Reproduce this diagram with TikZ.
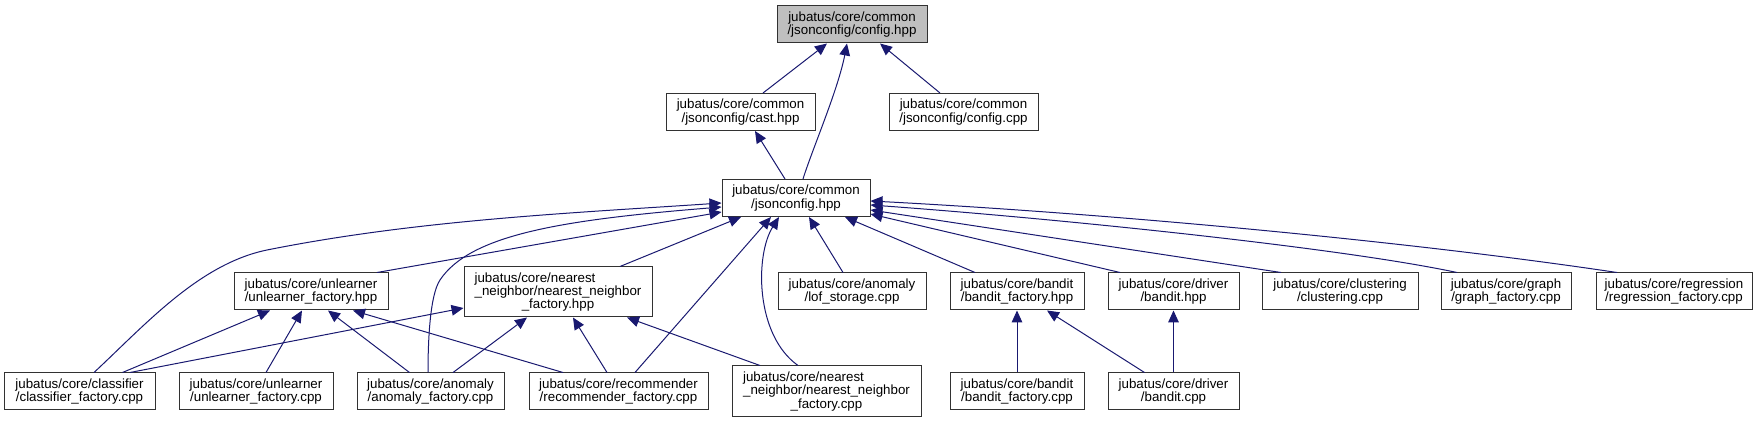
\documentclass[tikz,border=0pt]{standalone}
\usepackage{fontspec}
\setmainfont{Liberation Sans}
\usetikzlibrary{arrows.meta,calc}
\definecolor{edgeblue}{RGB}{25,25,112}
\definecolor{boxline}{RGB}{50,50,50}
\definecolor{rootfill}{RGB}{191,191,191}

\begin{document}
\begin{tikzpicture}[
  x=0.75pt, y=-0.75pt,
  font=\fontsize{10}{10}\selectfont,
  file/.style={draw=boxline, line width=0.75pt, fill=white, inner sep=0pt, minimum height=27.75pt, align=center},
  root/.style={file, fill=rootfill},
  inc/.style={edgeblue, line width=0.75pt, -{Triangle[length=9pt, width=8pt]}}]
  \useasboundingbox (0,0) rectangle (1761,423);
  % top rows
  \node[root, minimum width=112.5pt] (cfg) at (852,24.5) {jubatus/core/common\\/jsonconfig/config.hpp};
  \node[file, minimum width=111.75pt] (cast) at (740.5,112) {jubatus/core/common\\/jsonconfig/cast.hpp};
  \node[file, minimum width=111.75pt] (cfgcpp) at (963.5,112) {jubatus/core/common\\/jsonconfig/config.cpp};
  \node[file, minimum width=111pt] (json) at (796,198) {jubatus/core/common\\/jsonconfig.hpp};
  % middle row
  \node[file, minimum width=115.5pt] (unl) at (311,291.5) {jubatus/core/unlearner\\/unlearner\_factory.hpp};
  \node[file, minimum width=141pt, minimum height=37.5pt] (nnh) at (558,292) {\rlap{jubatus/core/nearest}\phantom{\_neighbor/nearest\_neighbor}\\\_neighbor/nearest\_neighbor\\\_factory.hpp};
  \node[file, minimum width=111pt] (lof) at (852,291.5) {jubatus/core/anomaly\\/lof\_storage.cpp};
  \node[file, minimum width=100.5pt] (bfh) at (1017,291.5) {jubatus/core/bandit\\/bandit\_factory.hpp};
  \node[file, minimum width=98.25pt] (dbh) at (1173.5,291.5) {jubatus/core/driver\\/bandit.hpp};
  \node[file, minimum width=117pt] (clu) at (1340,291.5) {jubatus/core/clustering\\/clustering.cpp};
  \node[file, minimum width=97.5pt] (gra) at (1506,291.5) {jubatus/core/graph\\/graph\_factory.cpp};
  \node[file, minimum width=117pt] (reg) at (1674,291.5) {jubatus/core/regression\\/regression\_factory.cpp};
  % bottom row
  \node[file, minimum width=113.25pt] (cls) at (79.5,391.5) {jubatus/core/classifier\\/classifier\_factory.cpp};
  \node[file, minimum width=115.5pt] (unc) at (256,391.5) {jubatus/core/unlearner\\/unlearner\_factory.cpp};
  \node[file, minimum width=110.25pt] (anf) at (430.5,391.5) {jubatus/core/anomaly\\/anomaly\_factory.cpp};
  \node[file, minimum width=134.25pt] (rec) at (618.5,391.5) {jubatus/core/recommender\\/recommender\_factory.cpp};
  \node[file, minimum width=141.75pt, minimum height=38.25pt] (nnc) at (826.5,391.5) {\rlap{jubatus/core/nearest}\phantom{\_neighbor/nearest\_neighbor}\\\_neighbor/nearest\_neighbor\\\_factory.cpp};
  \node[file, minimum width=100.5pt] (bfc) at (1017,391.5) {jubatus/core/bandit\\/bandit\_factory.cpp};
  \node[file, minimum width=98.25pt] (dbc) at (1173.5,391.5) {jubatus/core/driver\\/bandit.cpp};
  % into config.hpp
  \draw[inc] ($(cast.north)+(22.5,0)$) -- ($(cfg.south)+(-25,0)$);
  \draw[inc] ($(json.north)+(7,0)$) .. controls (812,150) and (838,90) .. ($(cfg.south)+(-5,0)$);
  \draw[inc] ($(cfgcpp.north)+(-23.5,0)$) -- ($(cfg.south)+(28,0)$);
  \draw[inc] ($(json.north)+(-11,0)$) -- ($(cast.south)+(14.5,0)$);
  % into jsonconfig.hpp
  \draw[inc] ($(cls.north)+(14.5,0)$) .. controls (145,325) and (199,264) .. (267,250) .. controls (417,220) and (572,213) .. ($(json.west)+(0,5)$);
  \draw[inc] ($(anf.north)+(-2.5,0)$) .. controls (428,340) and (430,295) .. (440,280) .. controls (470,235) and (560,220) .. ($(json.west)+(0,9)$);
  \draw[inc] ($(unl.north)+(66,0)$) -- ($(json.west)+(0,14)$);
  \draw[inc] ($(nnh.north)+(62,0)$) -- ($(json.south)+(-55,0)$);
  \draw[inc] ($(rec.north)+(16.5,0)$) -- ($(json.south)+(-25,0)$);
  \draw[inc] ($(nnc.north)+(-28.5,0)$) .. controls (755,335) and (755,255) .. ($(json.south)+(-17,0)$);
  \draw[inc] ($(lof.north)+(-9,0)$) -- ($(json.south)+(13,0)$);
  \draw[inc] ($(bfh.north)+(-42,0)$) -- ($(json.south)+(49,0)$);
  \draw[inc] ($(dbh.north)+(-53.5,0)$) -- ($(json.east)+(0,16)$);
  \draw[inc] ($(clu.north)+(-59,0)$) -- ($(json.east)+(0,12)$);
  \draw[inc] ($(gra.north)+(-49,0)$) .. controls (1337,247) and (1050,218) .. ($(json.east)+(0,7)$);
  \draw[inc] ($(reg.north)+(-57,0)$) .. controls (1400,240) and (1100,213) .. ($(json.east)+(0,3)$);
  % into unlearner_factory.hpp
  \draw[inc] ($(cls.north)+(43,0)$) -- ($(unl.south)+(-41,0)$);
  \draw[inc] ($(unc.north)+(10,0)$) -- ($(unl.south)+(-9,0)$);
  \draw[inc] ($(anf.north)+(-21,0)$) -- ($(unl.south)+(17,0)$);
  \draw[inc] ($(rec.north)+(-55.5,0)$) -- ($(unl.south)+(42,0)$);
  % into nearest_neighbor_factory.hpp
  \draw[inc] ($(cls.north)+(50.5,0)$) -- ($(nnh.west)+(0,16)$);
  \draw[inc] ($(anf.north)+(22.5,0)$) -- ($(nnh.south)+(-31,0)$);
  \draw[inc] ($(rec.north)+(-11.5,0)$) -- ($(nnh.south)+(15,0)$);
  \draw[inc] ($(nnc.north)+(-66.5,0)$) -- ($(nnh.south)+(69,0)$);
  % bandit
  \draw[inc] (bfc) -- (bfh);
  \draw[inc] ($(dbc.north)+(-29,0)$) -- ($(bfh.south)+(30,0)$);
  \draw[inc] (dbc) -- (dbh);
\end{tikzpicture}
\end{document}
